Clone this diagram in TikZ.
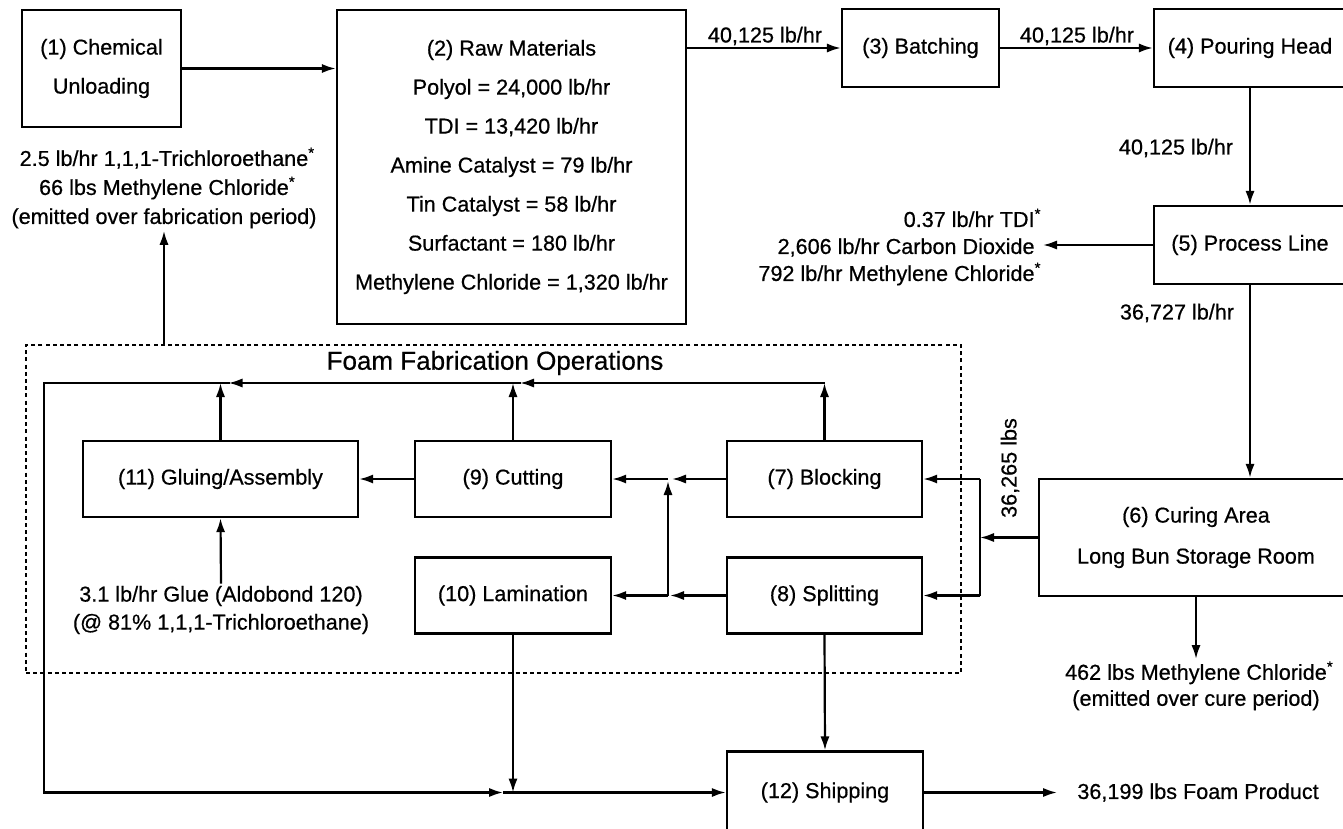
\documentclass[tikz,border=0pt]{standalone}
\usepackage{fontspec}
\setmainfont{Liberation Sans}[FakeBold=0.6]
\usetikzlibrary{positioning, arrows.meta}

\begin{document}
\begin{tikzpicture}[x=0.5pt, y=-0.5pt,
        font=\fontsize{10.8}{14}\selectfont,
        procbox/.style={draw, line width=1.2pt, align=center, inner sep=0pt},
        flow/.style={line width=1.1pt, -{Latex[length=7pt, width=4.6pt]}},
        plain/.style={line width=1.1pt},
        note/.style={align=center, inner sep=1pt}
    ]
    \useasboundingbox (0,0) rectangle (1343,829);

    % Unloading
    \node[procbox, minimum width=79.5pt, minimum height=58.5pt,
          font=\fontsize{10.8}{19.5}\selectfont] (unload) at (101.5,68.5)
        {(1) Chemical\\Unloading};

    % Raw materials
    \node[procbox, minimum width=174.5pt, minimum height=157pt,
          font=\fontsize{10.8}{19.5}\selectfont] (raw) at (511.5,167)
        {(2) Raw Materials\\
         Polyol = 24,000 lb/hr\\
         TDI = 13,420 lb/hr\\
         Amine Catalyst = 79 lb/hr\\
         Tin Catalyst = 58 lb/hr\\
         Surfactant = 180 lb/hr\\
         Methylene Chloride = 1,320 lb/hr};

    % Batching, pouring, process line
    \node[procbox, minimum width=78.5pt, minimum height=39pt] (batch) at (920.5,48) {(3) Batching};
    \node[procbox, minimum width=96pt, minimum height=39pt] (pour) at (1250,48) {(4) Pouring Head};
    \node[procbox, minimum width=96pt, minimum height=39pt] (procline) at (1250,245) {(5) Process Line};

    % Curing
    \node[procbox, minimum width=157pt, minimum height=58.5pt,
          font=\fontsize{10.8}{20.5}\selectfont] (cure) at (1196,537.5)
        {(6) Curing Area\\Long Bun Storage Room};

    % Fabrication
    \node[draw, line width=0.8pt, dash pattern=on 2pt off 1.6pt, inner sep=0pt,
          minimum width=467.5pt, minimum height=164pt] (foam) at (493.5,509) {};
    \node[font=\fontsize{13}{15}\selectfont] (foamtitle) at (495,363) {Foam Fabrication Operations};
    \node[procbox, minimum width=97.5pt, minimum height=38pt] (block) at (824.5,479) {(7) Blocking};
    \node[procbox, minimum width=97.5pt, minimum height=38pt] (split) at (824.5,595.5) {(8) Splitting};
    \node[procbox, minimum width=98pt, minimum height=38pt] (cut) at (513,479) {(9) Cutting};
    \node[procbox, minimum width=98pt, minimum height=38pt] (lam) at (513,595.5) {(10) Lamination};
    \node[procbox, minimum width=137.5pt, minimum height=38pt] (glue) at (220.5,479) {(11) Gluing/Assembly};

    % Shipping
    \node[procbox, minimum width=98pt, minimum height=41pt] (ship) at (825,792.5) {(12) Shipping};

    % emissions and inputs
    \node[note, font=\fontsize{10.8}{14.5}\selectfont] (unloadout) at (164,188)
        {2.5 lb/hr 1,1,1-Trichloroethane\rlap{\textsuperscript{*}}\\
         66 lbs Methylene Chloride\rlap{\textsuperscript{*}}\\
         (emitted over fabrication period)};
    \node[note, anchor=east, align=right, inner xsep=4pt,
          font=\fontsize{10.8}{13.5}\selectfont] (lineout) at (1043,247)
        {0.37 lb/hr TDI\rlap{\textsuperscript{*}}\\
         2,606 lb/hr Carbon Dioxide\\
         792 lb/hr Methylene Chloride\rlap{\textsuperscript{*}}};
    \node[note, anchor=north, font=\fontsize{10.8}{13}\selectfont] (cureout) at (1196,659)
        {462 lbs Methylene Chloride\rlap{\textsuperscript{*}}\\
         (emitted over cure period)};
    \node[note, font=\fontsize{10.8}{14}\selectfont] (gluein) at (221,610)
        {3.1 lb/hr Glue (Aldobond 120)\\
         (@ 81\% 1,1,1-Trichloroethane)};
    \node[note, anchor=west, inner xsep=10pt] (product) at (1057,792.5) {36,199 lbs Foam Product};

    % flow rates
    \node (rate1) at (765,36) {40,125 lb/hr};
    \node (rate2) at (1077,36) {40,125 lb/hr};
    \node (rate3) at (1176,148) {40,125 lb/hr};
    \node (rate4) at (1177,313) {36,727 lb/hr};
    \node[rotate=90] (rate5) at (1010,468) {36,265 lbs};

    % main line
    \draw[flow] (unload.east) -- (raw.west |- unload.east);
    \draw[flow] (raw.east |- batch.west) -- (batch.west);
    \draw[flow] (batch.east) -- (pour.west);
    \draw[flow] (pour.south) -- (procline.north);
    \draw[flow] (procline.west) -- (procline.west -| lineout.east);
    \draw[flow] (procline.south) -- (cure.north -| procline.south);
    \draw[flow] (cure.south) -- (cureout.north);
    \draw[flow] (unloadout.south |- foam.north) -- (unloadout.south);

    % curing to blocking / splitting
    \coordinate (fork) at (980,537.5);
    \draw[flow] (cure.west) -- (fork);
    \draw[plain] (fork |- block.east) -- (fork |- split.east);
    \draw[flow] (fork |- block.east) -- (block.east);
    \draw[flow] (fork |- split.east) -- (split.east);

    % blocking / splitting to cutting / lamination
    \coordinate (jtop) at (668,479);
    \coordinate (jbot) at (668,595.5);
    \draw[flow, shorten >=2pt] (block.west) -- (jtop);
    \draw[flow, shorten >=1pt] (split.west) -- (jbot);
    \draw[flow, shorten >=1pt] (jbot) -- (jtop);
    \draw[flow] (jtop) -- (cut.east);
    \draw[flow] (jbot) -- (lam.east);
    \draw[flow] (cut.west) -- (glue.east);
    \draw[flow] (gluein.north) -- (glue.south);

    % scrap loop to shipping
    \coordinate (loopne) at (824.5,383);
    \coordinate (loopnw) at (44,383);
    \coordinate (loopsw) at (44,792.5);
    \draw[flow] (block.north) -- (loopne);
    \draw[flow] (cut.north) -- (cut.north |- loopne);
    \draw[flow] (glue.north) -- (glue.north |- loopne);
    \draw[flow, shorten >=3.5pt] (loopne) -- (cut.north |- loopne);
    \draw[flow, shorten >=4pt] (cut.north |- loopne) -- (glue.north |- loopne);
    \draw[plain] (cut.north |- loopne) -- ++(8,0) (glue.north |- loopne) -- ++(9,0);
    \draw[flow, shorten >=5pt] (glue.north |- loopne) -- (loopnw) -- (loopsw) -- (lam.south |- loopsw);
    \draw[plain] (lam.south |- loopsw) -- ++(-10,0);
    \draw[flow] (lam.south) -- (lam.south |- loopsw);
    \draw[flow] (lam.south |- loopsw) -- (ship.west);
    \draw[flow] (split.south) -- (ship.north);
    \draw[flow] (ship.east) -- (product.west);
\end{tikzpicture}
\end{document}
